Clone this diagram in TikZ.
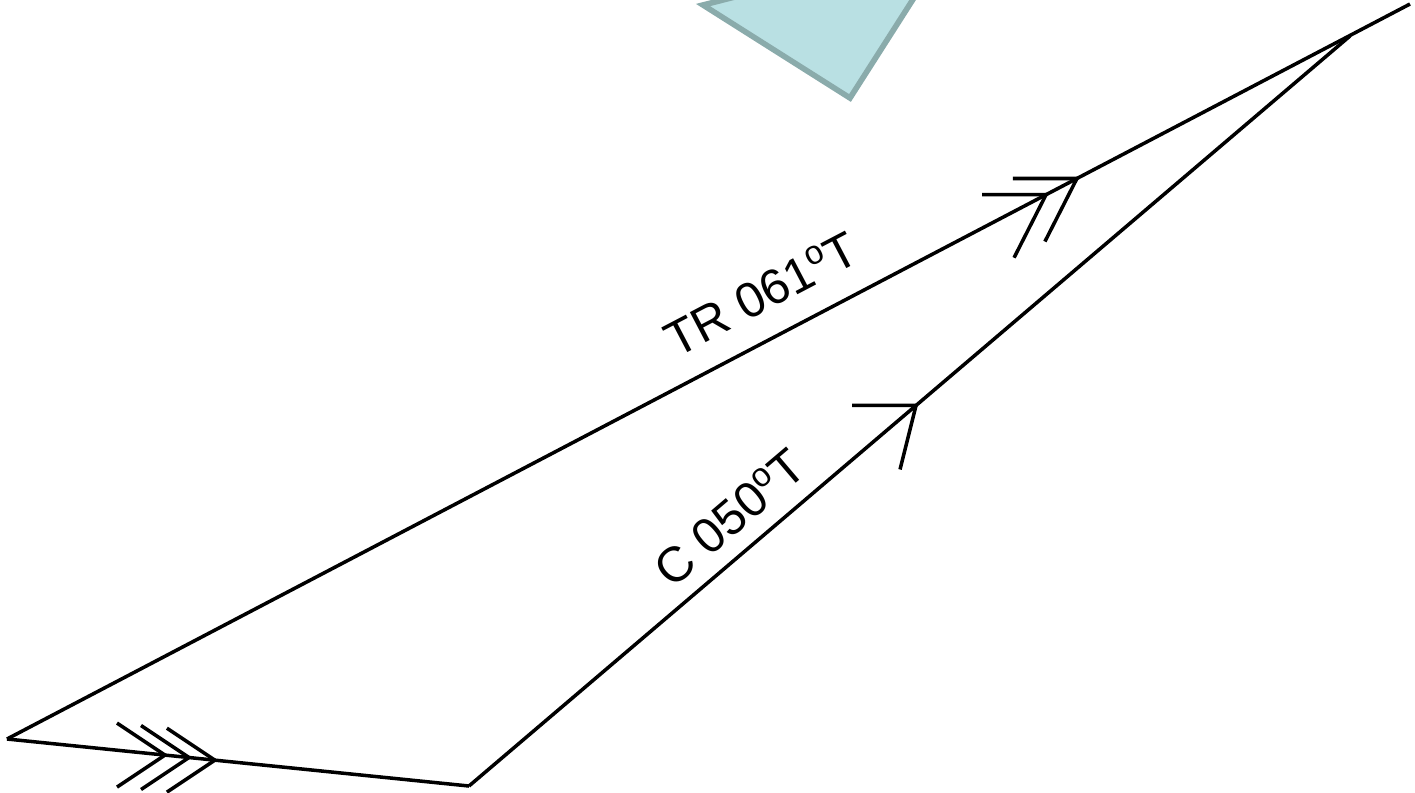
\documentclass[tikz,border=0pt]{standalone}
\usepackage{fontspec}
\setmainfont{Liberation Sans}
\usetikzlibrary{positioning}

\definecolor{plate}{HTML}{B9E0E3}
\definecolor{plateedge}{HTML}{8AABAB}
\newcommand{\dego}{\raisebox{0.7ex}{\fontsize{9.5}{10}\selectfont o}}

\begin{document}
\begin{tikzpicture}[
            x=0.1mm, y=-0.1mm,
            leg/.style={
                    draw=black,
                    line width=1pt
                },
            head/.style={
                    draw=black,
                    line width=1pt,
                    line cap=butt
                },
            bearing/.style={
                    sloped,
                    font=\fontsize{14}{16}\selectfont,
                    inner sep=1pt
                }
        ]
        \useasboundingbox (0,0) rectangle (1415,792);

        % Plate
        \begin{scope}
            \clip (0,0) rectangle (1415,792);
            \draw [fill=plate, draw=plateedge, line width=1.6pt]
                (703,5) -- (850,98) -- (949,-57) -- cycle;
        \end{scope}

        % Vertices
        \coordinate (A) at (7,739);
        \coordinate (B) at (469,786);
        \coordinate (C) at (1350,36);
        \coordinate (E) at (1410,4);

        % Sides
        \path [leg] (A) -- (E)
            node [bearing, pos=0.552, above=6pt] (tr) {TR 061\dego T}
            coordinate [pos=0.7406] (tr1)
            coordinate [pos=0.7626] (tr2);
        \path [leg] (B) -- (C)
            node [bearing, pos=0.322, above=3.5pt] (co) {C 050\dego T}
            coordinate [pos=0.5074] (c1);
        \path [leg] (A) -- (B)
            coordinate [pos=0.342] (w1)
            coordinate [pos=0.394] (w2)
            coordinate [pos=0.450] (w3);

        % Arrow marks
        \path [head] (tr1) ++(-64,0) -- (tr1) -- ++(-32,63);
        \path [head] (tr2) ++(-64,0) -- (tr2) -- ++(-32,63);
        \path [head] (c1) ++(-64,0) -- (c1) -- ++(-16,64);
        \path [head] (w1) ++(-48,-32) -- (w1) -- ++(-48,32);
        \path [head] (w2) ++(-48,-32) -- (w2) -- ++(-48,32);
        \path [head] (w3) ++(-48,-32) -- (w3) -- ++(-48,32);
    \end{tikzpicture}
\end{document}
